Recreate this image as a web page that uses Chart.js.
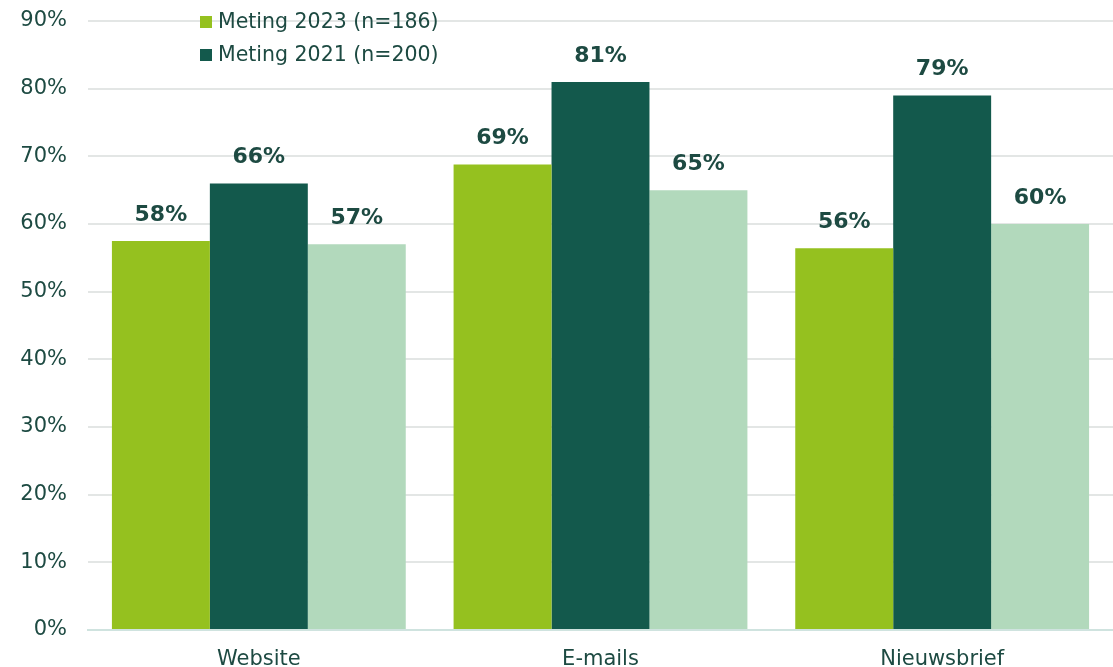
<!DOCTYPE html>
<html>
<head>
<meta charset="utf-8">
<script src="https://cdn.jsdelivr.net/npm/chart.js@4/dist/chart.umd.min.js"></script>
<style>
  html, body { margin: 0; padding: 0; background: #fff; }
  #wrap { width: 1113px; height: 667px; }
</style>
</head>
<body>
<div id="wrap"><canvas id="chart"></canvas></div>
<script>
const categories = ["Website", "E-mails", "Nieuwsbrief"];
const meting2023 = [57.5, 68.8, 56.4];
const meting2021 = [66, 81, 79];
const meting3 = [57, 65, 60];
const seriesLabels = ["Meting 2023 (n=186)", "Meting 2021 (n=200)", ""];
const yTicks = [0, 10, 20, 30, 40, 50, 60, 70, 80, 90];

const FONT = "'DejaVu Sans', sans-serif";
const TEXT = "#1d4a42";

// value labels above each bar
const barLabels = {
  id: "barLabels",
  afterDatasetsDraw(chart) {
    const ctx = chart.ctx;
    ctx.save();
    ctx.font = "bold 22px " + FONT;
    ctx.fillStyle = TEXT;
    ctx.textAlign = "center";
    ctx.textBaseline = "middle";
    chart.data.datasets.forEach((ds, i) => {
      chart.getDatasetMeta(i).data.forEach((bar, j) => {
        ctx.fillText(Math.round(ds.data[j]) + "%", bar.x, bar.y - 26);
      });
    });
    ctx.restore();
  }
};

// legend drawn inside the plot, only the named series
const innerLegend = {
  id: "innerLegend",
  afterDraw(chart) {
    const ctx = chart.ctx;
    const x = chart.chartArea.left + 112;
    ctx.save();
    ctx.font = "20.5px " + FONT;
    ctx.textBaseline = "middle";
    chart.data.datasets.forEach((ds, i) => {
      if (!ds.label) return;
      const y = 22 + i * 33;
      ctx.fillStyle = ds.backgroundColor;
      ctx.fillRect(x, y - 6, 12, 12);
      ctx.fillStyle = TEXT;
      ctx.fillText(ds.label, x + 18, y + 1);
    });
    ctx.restore();
  }
};

new Chart(document.getElementById("chart"), {
  type: "bar",
  data: {
    labels: categories,
    datasets: [
      { label: seriesLabels[0], data: meting2023, backgroundColor: "#95c11f" },
      { label: seriesLabels[1], data: meting2021, backgroundColor: "#13594c" },
      { label: seriesLabels[2], data: meting3, backgroundColor: "#b2d9bc" }
    ]
  },
  options: {
    responsive: true,
    maintainAspectRatio: false,
    animation: false,
    layout: { padding: { top: 21, left: 0, right: 0, bottom: 0 } },
    datasets: { bar: { categoryPercentage: 0.86, barPercentage: 1.0 } },
    plugins: {
      legend: { display: false },
      tooltip: { enabled: false }
    },
    scales: {
      x: {
        grid: { display: false },
        border: { color: "#cfe3df", width: 2 },
        ticks: { color: TEXT, font: { family: FONT, size: 21 }, padding: 9 },
        afterFit(scale) { scale.height = 37; }
      },
      y: {
        min: 0,
        max: 90,
        afterBuildTicks(scale) { scale.ticks = yTicks.map(v => ({ value: v })); },
        grid: { color: "#e3e6e5", lineWidth: 2, drawTicks: true, tickLength: 14, tickColor: "rgba(0,0,0,0)" },
        border: { display: false },
        ticks: {
          color: TEXT,
          font: { family: FONT, size: 21 },
          padding: 7,
          callback: v => v + "%"
        },
        afterFit(scale) { scale.width = 88; }
      }
    }
  },
  plugins: [barLabels, innerLegend]
});
</script>
</body>
</html>
